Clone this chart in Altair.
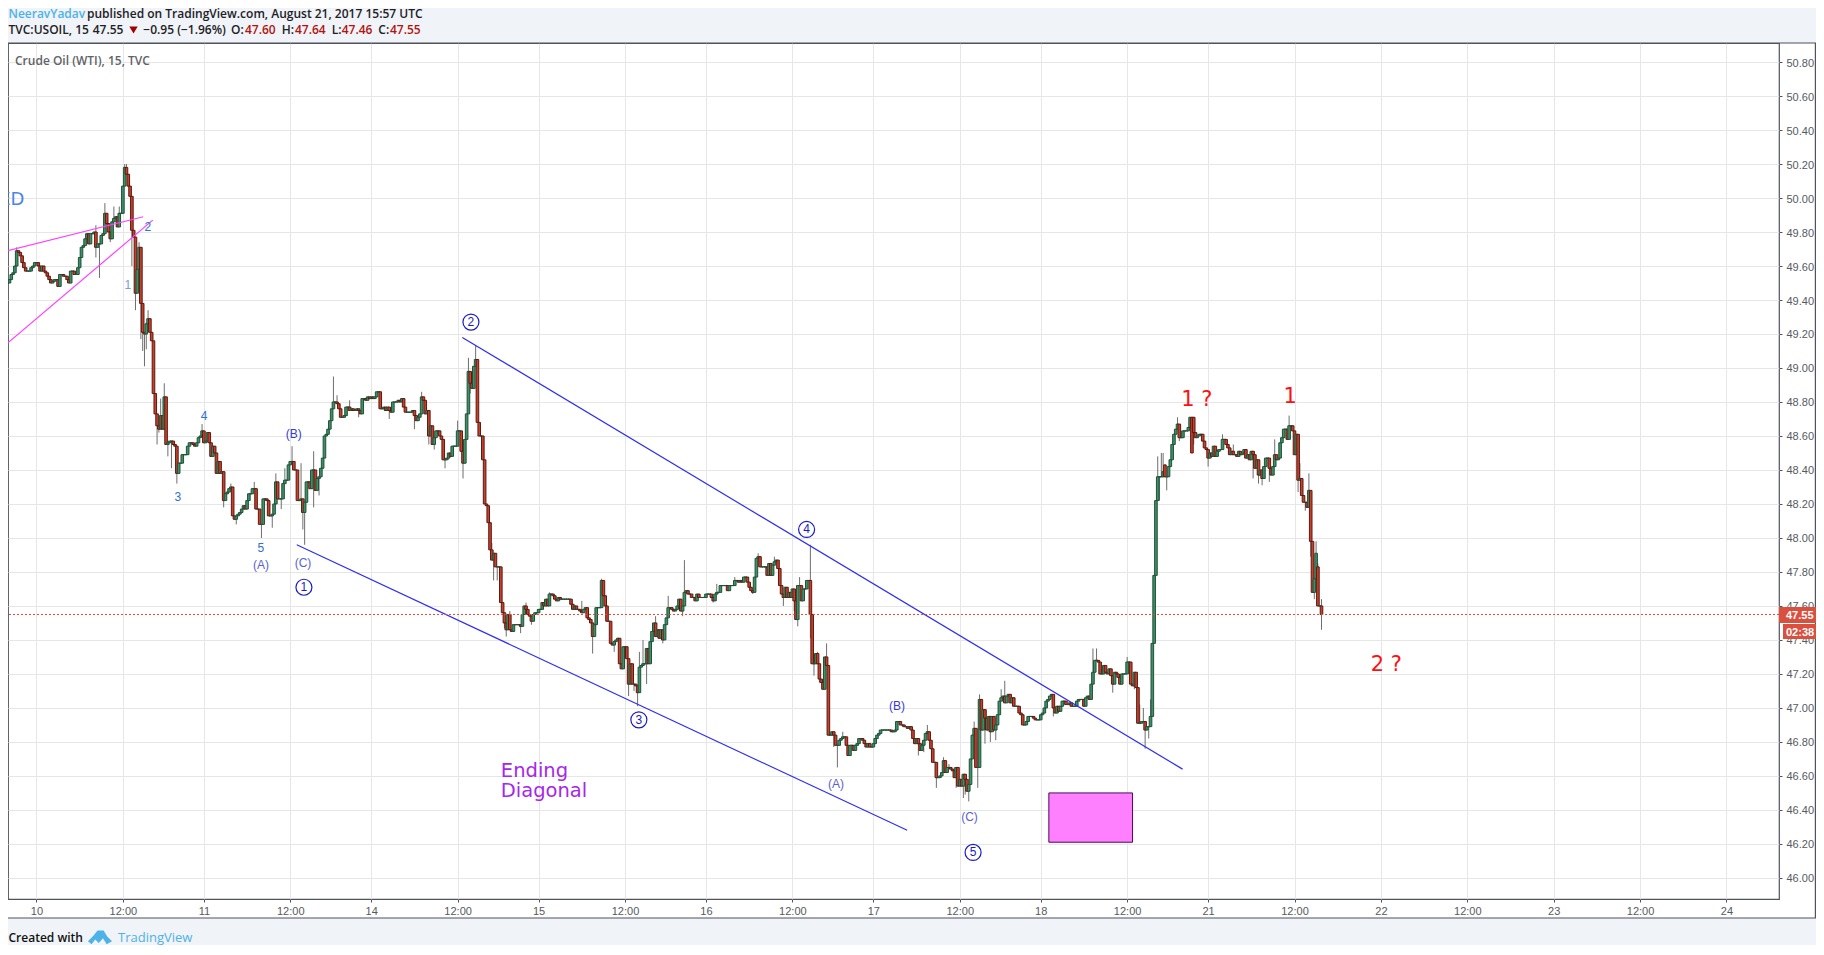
import altair as alt
import pandas as pd

# ---- candle closes, by stretch of the chart (15-minute bars, bar 0 = Aug 10 00:00)
start_1 = -16
closes_1 = [
    49.50,49.52,49.55,49.56,49.60,49.69,49.68,49.66,49.62,49.59,
    49.57,49.57,49.57,49.59,49.60,49.62,
    49.62,49.60,49.57,49.60,49.57,49.56,49.54,49.52,49.50,49.51,
    49.52,49.52,49.48,49.55,49.55,49.54,49.54,49.52,49.50,49.57,
    49.57,49.55,49.55,49.59,49.65,49.71,49.72,49.76,49.79,49.73,
    49.79,49.79,49.80,49.71,49.73,49.73,49.78,49.79,49.91,49.85,
    49.80,49.76,49.86,49.88,49.89,49.83,49.91,49.91,50.07,50.18,
    50.14,50.07,50.01,49.81,49.77,49.44,49.58,49.71,49.38,49.21,
    49.20,49.26,49.29,49.21,49.16]
start_2 = 65
closes_2 = [
    48.85,48.73,48.66,48.64,48.72,48.64,48.83,48.55,48.56,48.57,
    48.57,48.55,48.54,48.38,48.44,48.44,48.49,48.49,48.49,48.54,
    48.56,48.56,48.55,48.54,48.56,48.59,48.60,48.63,48.56,48.57,
    48.62,48.56,48.48,48.54,48.50,48.38,48.45,48.38,48.39,48.22,
    48.26,48.27,48.29,48.30,48.13,48.11,48.13,48.14,48.15,48.17,
    48.19,48.17,48.22,48.26,48.26,48.29,48.29,48.17,48.17,48.08,
    48.08,48.23,48.23,48.22,48.13,48.13,48.14,48.20,48.33,48.23,
    48.23,48.23,48.32,48.34,48.34,48.43,48.45,48.45,48.40,48.40,
    48.22,48.22,48.23,48.15,48.21,48.33,48.33,48.29,48.40,48.40,
    48.28,48.35,48.36,48.41,48.47,48.60,48.61,48.64,48.69,48.76,
    48.80,48.80,48.79,48.76,48.71,48.71,48.72,48.77,48.77,48.75,
    48.76,48.75,48.75,48.76,48.75,48.73,48.82,48.82,48.81,48.83,
    48.82,48.83,48.82,48.83,48.86,48.86,48.76,48.76,48.77,48.75,
    48.77,48.75,48.74,48.80,48.80,48.80,48.81,48.80,48.82,48.77,
    48.74,48.74,48.74,48.74,48.75,48.72,48.69,48.71,48.73,48.83,
    48.81,48.73,48.75,48.60,48.66,48.55,48.59,48.63,48.63,48.60,
    48.58,48.46,48.46,48.47,48.50,48.48,48.54,48.54,48.54,48.63,
    48.63,48.51,48.44,48.58,48.73,48.98,48.91,48.88,49.01,49.05]
start_3 = 245
closes_3 = [
    48.68,48.60,48.60,48.46,48.20,48.19,48.09,47.93,47.87,47.91,
    47.83,47.83,47.83,47.62,47.56,47.50,47.46,47.55,47.46,47.45,
    47.49,47.49,47.49,47.49,47.48,47.55,47.60,47.58,47.55,47.54,
    47.51,47.55,47.56,47.56,47.58,47.58,47.62,47.60,47.64,47.60,
    47.67,47.67,47.66,47.64,47.63,47.65,47.64,47.64,47.64,47.64,
    47.64,47.64,47.61,47.58,47.60,47.58,47.58,47.57,47.56,47.58,
    47.59,47.53,47.52,47.50,47.42,47.49,47.59,47.59,47.59,47.75,
    47.66,47.60,47.51,47.51,47.38,47.37,47.39,47.40,47.41,47.26,
    47.23,47.36,47.36,47.29,47.14,47.26,47.14,47.14,47.13,47.09,
    47.24,47.25,47.26,47.26,47.35,47.26,47.39,47.45,47.50,47.42,
    47.46,47.41,47.46,47.40,47.49,47.53,47.59,47.59,47.58,47.57,
    47.58,47.60,47.64,47.57,47.60,47.68,47.69,47.67,47.67,47.65,
    47.65,47.63,47.67,47.65,47.65,47.65,47.65,47.67,47.67,47.67,
    47.65,47.63,47.67,47.68,47.68,47.72,47.72,47.72,47.72,47.69,
    47.72,47.72,47.72,47.75,47.75,47.74,47.75,47.74,47.77,47.77,
    47.74,47.71,47.69,47.68,47.77,47.88,47.89,47.83,47.83,47.83,
    47.83,47.78,47.85,47.78,47.84,47.86,47.87,47.82,47.72,47.67,
    47.65,47.71,47.65,47.68,47.65,47.70,47.63,47.52,47.72,47.72,
    47.63,47.70,47.70,47.75,47.75,47.55,47.26]
start_4 = 432
closes_4 = [
    47.26,47.32,47.26,47.17,47.15,47.11,47.30,47.25,46.84,46.84,
    46.86,46.84,46.78,46.78,46.81,46.82,46.83,46.83,46.78,46.72,
    46.78,46.78,46.75,46.78,46.79,46.82,46.82,46.81,46.79,46.77,
    46.79,46.77,46.77,46.79,46.82,46.84,46.85,46.87,46.87,46.87,
    46.87,46.87,46.87,46.86,46.86,46.87,46.92,46.92,46.90,46.90,
    46.89,46.89,46.88,46.89,46.87,46.82,46.79,46.82,46.79,46.75,
    46.78,46.81,46.85,46.86,46.81,46.76,46.68,46.68,46.59,46.59,
    46.60,46.62,46.69,46.62,46.65,46.65,46.64,46.63,46.59,46.65,
    46.54,46.58,46.54,46.61,46.58,46.51,46.55,46.70,46.84,46.88,
    46.65,46.65,47.05,46.87,46.99,46.94,46.87,46.95,46.86,46.95,
    46.87,46.90,46.96,47.04,47.06,47.07,47.03,47.07,47.08,47.03,
    47.06,47.01,47.01,47.01,46.97,46.96,46.90,46.90,46.92,46.95,
    46.95,46.95,46.94,46.93,46.93,46.93,46.96,46.97,47.00,47.04,
    47.05,47.07,47.08,47.00,46.97,47.01,46.98,47.01,47.04,47.04,
    47.02,47.02,47.03,47.01,47.01,47.01,47.04,47.05,47.05,47.05,
    47.01,47.06,47.07,47.05,47.14,47.21,47.28,47.28,47.27,47.20,
    47.20,47.25,47.21,47.20,47.23,47.19,47.14,47.21,47.20,47.18,
    47.14,47.20,47.20,47.20,47.27,47.27,47.14,47.13,47.21,47.12,
    46.91,46.91,46.92,46.92,46.87,46.89,46.89,46.95,47.38,47.78,
    48.22]
start_5 = 623
closes_5 = [
    48.36,48.36,48.36,48.39,48.36,48.36,48.42,48.46,48.55,48.61,
    48.64,48.67,48.59,48.59,48.63,48.63,48.63,48.65,48.71,48.50,
    48.62,48.59,48.60,48.61,48.61,48.57,48.53,48.52,48.47,48.50,
    48.48,48.54,48.48,48.51,48.52,48.52,48.58,48.58,48.55,48.53,
    48.49,48.51,48.49,48.49,48.48,48.51,48.49,48.50,48.52,48.47,
    48.49,48.46,48.51,48.49,48.41,48.46,48.37,48.40,48.35,48.42,
    48.47,48.47,48.41,48.37,48.42,48.49,48.46,48.47,48.56,48.59,
    48.64,48.64,48.58,48.66,48.66,48.63,48.49,48.61,48.34,48.35,
    48.25,48.21,48.21,48.18,48.28,47.98,47.68,47.76,47.91,47.60,
    47.60,47.55]

# Bars whose open is visibly away from the previous close
gapped_opens = {627: 48.43, 643: 48.71, 712: 47.83, 714: 47.60}

# Visible upper and lower wicks
wick_highs = {
    -11:49.71,33:49.84,38:49.97,43:49.95,46:49.95,49:50.20,50:50.20,57:49.74,62:49.34,
    69:48.82,71:48.91,92:48.67,108:48.32,121:48.33,133:48.38,138:48.41,142:48.54,147:48.44,
    154:48.51,165:48.95,167:48.84,174:48.81,214:48.86,234:48.69,240:49.06,244:49.13,
    253:47.97,263:47.57,272:47.62,285:47.68,303:47.63,314:47.76,335:47.33,337:47.40,
    344:47.54,351:47.66,360:47.87,378:47.73,388:47.77,401:47.91,410:47.89,424:47.77,
    430:47.96,434:47.33,439:47.38,448:46.86,495:46.90,504:46.71,507:46.67,510:46.65,
    521:46.92,524:47.08,536:47.11,538:47.16,587:47.35,589:47.35,606:47.30,613:47.02,
    615:47.00,619:47.05,623:48.48,625:48.50,626:48.50,634:48.71,641:48.71,659:48.61,
    665:48.55,688:48.58,696:48.72,702:48.44,707:48.38,711:47.98,712:47.85,714:47.64}
wick_lows = {
    -16:49.45,33:49.65,35:49.53,41:49.74,53:49.60,55:49.34,58:49.17,59:49.10,60:49.01,
    61:49.11,67:48.55,68:48.62,73:48.48,75:48.41,78:48.32,104:48.18,111:48.08,125:48.00,
    131:48.06,136:48.17,148:48.05,149:47.96,154:48.18,157:48.25,179:48.71,196:48.70,
    210:48.64,218:48.55,221:48.52,227:48.41,237:48.35,241:48.85,254:47.75,256:47.75,
    260:47.47,261:47.42,269:47.44,275:47.49,309:47.32,321:47.33,326:47.23,329:47.07,
    332:47.10,334:47.01,339:47.14,348:47.38,359:47.54,376:47.62,398:47.67,415:47.60,
    421:47.57,423:47.48,430:47.41,432:47.19,435:47.15,443:46.77,445:46.65,451:46.72,
    490:46.72,493:46.74,500:46.53,511:46.53,515:46.47,516:46.49,518:46.45,523:46.53,
    527:46.79,530:46.80,533:46.81,565:46.95,598:47.09,610:47.11,616:46.76,618:46.82,
    624:48.22,628:48.28,635:48.57,643:48.55,651:48.42,676:48.35,679:48.32,681:48.31,
    685:48.33,701:48.27,705:48.16,708:47.89,710:47.64,714:47.46}

# Axis ticks
x_tick_bars = [0,48,93,141,186,234,279,327,372,420,465,513,558,606,651,699,747,795,843,891,939]
x_tick_text = ["10","12:00","11","12:00","14","12:00","15","12:00","16","12:00","17","12:00",
               "18","12:00","21","12:00","22","12:00","23","12:00","24"]
y_ticks = [46.0,46.2,46.4,46.6,46.8,47.0,47.2,47.4,47.6,47.8,48.0,48.2,48.4,48.6,48.8,
           49.0,49.2,49.4,49.6,49.8,50.0,50.2,50.4,50.6,50.8]

# Annotations, in bar / price terms
wave_small = [("1",50.8,49.49,"#6f9fe6"),("2",61.9,49.83,"#2f6fd8"),("3",78.6,48.24,"#2f6fd8"),
              ("4",93.1,48.72,"#2f6fd8"),("5",124.7,47.94,"#2f6fd8"),
              ("(A)",124.7,47.84,"#5a62d0"),("(B)",142.9,48.61,"#3a3ad0"),("(C)",148.1,47.85,"#5a62d0"),
              ("(A)",444.2,46.55,"#5a62d0"),("(B)",478.1,47.01,"#3a3ad0"),("(C)",518.4,46.36,"#5a62d0")]
wave_circled = [("1",148.6,47.71),("2",241.4,49.27),("3",334.7,46.93),("4",427.9,48.05),("5",520.4,46.15)]
red_marks = [("1 ?",644.7,48.81),("1",696.6,48.83),("2 ?",750.0,47.25)]
purple_lines = [("Ending",258.0,46.63),("Diagonal",258.0,46.51)]
magenta_segments = [(-16.2,49.69,59.3,49.89),(-16.2,49.145,64.6,49.87)]
blue_segments = [(236.6,49.18,636.8,46.64),(144.6,47.96,483.8,46.28)]
pink_box = (562.5,609.0,46.50,46.21)
last_price = 47.55

# ---- table of candles
closes = {}
for s, vals in [(start_1,closes_1),(start_2,closes_2),(start_3,closes_3),(start_4,closes_4),(start_5,closes_5)]:
    for i, v in enumerate(vals):
        closes[s+i] = v
rows = []
prev = None
for b in sorted(closes):
    c = closes[b]
    o = gapped_opens.get(b, prev if prev is not None else c)
    h = max(o, c, wick_highs.get(b, 0))
    l = min(o, c, wick_lows.get(b, 99))
    rows.append({"bar":b,"open":o,"close":c,"high":h,"low":l,"dir":"up" if c>=o else "down"})
    prev = c
candles = pd.DataFrame(rows)

# ---- layout helpers (page pixels -> canvas pixels)
PLOT_W, PLOT_H = 1771, 856
def px(x): return x-8
def py(y): return y-43

GRID = "#e6e6e6"; AX = "#50535e"; AXTXT = "#555a60"; PANEL = "#f0f3f7"
x_scale = alt.Scale(domain=[-15.83,968.2], nice=False, zero=False, padding=0)
y_scale = alt.Scale(domain=[45.876,50.912], nice=False, zero=False)
label_map = "{" + ",".join(f'"{b}":"{t}"' for b,t in zip(x_tick_bars,x_tick_text)) + "}"
x_axis = alt.Axis(values=x_tick_bars, labelExpr=f"{label_map}[datum.value]", grid=True, gridColor=GRID, gridWidth=1,
        domain=False, ticks=True, tickSize=3, tickColor=AX, labelColor=AXTXT, labelFont="Liberation Sans",
        labelFontSize=11, labelPadding=3, labelOverlap=False, labelFlush=False, labelBound=False, title=None)
y_axis = alt.Axis(orient="right", values=y_ticks, format=".2f", grid=True, gridColor=GRID, gridWidth=1,
        domain=False, ticks=True, tickSize=3, tickColor=AX, labelColor=AXTXT, labelFont="Liberation Sans",
        labelFontSize=11, labelPadding=4, labelOffset=1, labelOverlap=False, labelFlush=False, labelBound=False, title=None)
X = lambda f="bar": alt.X(f"{f}:Q", scale=x_scale, axis=x_axis)
Y = lambda f: alt.Y(f"{f}:Q", scale=y_scale, axis=y_axis)
def one(): return alt.Chart(pd.DataFrame({"k":[0]}))

layers = []

# grey page bands round the white chart frame
def box(x1,x2,y1,y2,fill):
    return one().mark_rect(fill=fill).encode(
        x=alt.value(px(x1)), x2=alt.value(px(x2)), y=alt.value(py(y1)), y2=alt.value(py(y2)))
layers.append(box(8,1816,8,43,PANEL))
layers.append(box(8,1816,918,945,PANEL))

# wicks
layers.append(alt.Chart(candles).mark_rule(color="#6e6e6e", strokeWidth=1, clip=True).encode(
    x=X(), y=Y("low"), y2="high:Q"))

# bodies
layers.append(alt.Chart(candles).mark_bar(size=2.6, strokeWidth=1, clip=True, orient="vertical").encode(
    x=X(), y=Y("open"), y2="close:Q",
    fill=alt.Fill("dir:N", scale=alt.Scale(domain=["up","down"], range=["#3f8f68","#c8402c"]), legend=None),
    stroke=alt.Stroke("dir:N", scale=alt.Scale(domain=["up","down"], range=["#1f5138","#5a1a10"]), legend=None)))

# trend lines
def segments(segs, color, width):
    out = []
    for x1,y1,x2,y2 in segs:
        df = pd.DataFrame({"a":[x1],"b":[y1],"c":[x2],"d":[y2]})
        out.append(alt.Chart(df).mark_rule(color=color, strokeWidth=width, clip=True).encode(
            x=X("a"), y=Y("b"), x2="c:Q", y2="d:Q"))
    return out
layers += segments(magenta_segments, "#ff40ff", 1.2)
layers += segments(blue_segments, "#3030f0", 1.2)

# price line
layers.append(alt.Chart(pd.DataFrame({"p":[last_price]})).mark_rule(color="#e8452f", strokeWidth=1, strokeDash=[2,2]).encode(
    y=Y("p")))

# pink box
layers.append(alt.Chart(pd.DataFrame({"x":[pink_box[0]],"x2":[pink_box[1]],"y":[pink_box[2]],"y2":[pink_box[3]]}))
    .mark_rect(fill="#ff80ff", stroke="#4b0a5a", strokeWidth=1).encode(x=X("x"), x2="x2:Q", y=Y("y"), y2="y2:Q"))

# wave labels
def data_text(items, font, size, color=None, align="center", weight="normal"):
    out = []
    for it in items:
        t, b, p = it[0], it[1], it[2]
        c = it[3] if len(it) > 3 else color
        df = pd.DataFrame({"t":[t],"b":[b],"p":[p]})
        out.append(alt.Chart(df).mark_text(font=font, fontSize=size, color=c, align=align, baseline="middle",
                                           fontWeight=weight, clip=True).encode(x=X("b"), y=Y("p"), text="t:N"))
    return out
layers += data_text(wave_small, "Liberation Sans", 12)
layers += data_text([("ED",-6.7,49.99,"#4a86e8")], "DejaVu Sans", 18, align="right")
layers += data_text(red_marks, "DejaVu Sans", 21, color="#ff1010")
layers += data_text(purple_lines, "DejaVu Sans", 19.5, color="#a626ee", align="left")
circ = pd.DataFrame(wave_circled, columns=["t","b","p"])
layers.append(alt.Chart(circ).mark_point(shape="circle", size=256, filled=False, color="#1a1ac8", strokeWidth=1.2, opacity=1)
              .encode(x=X("b"), y=Y("p")))
layers += data_text(wave_circled, "Liberation Sans", 12, color="#1a1ac8")

# frame round the price scale and time scale
layers.append(one().mark_rect(fillOpacity=0, stroke=AX, strokeWidth=1.2).encode(
    x=alt.value(-2), x2=alt.value(px(1815.4)), y=alt.value(0), y2=alt.value(py(918))))

# price tags
layers.append(box(1779,1816,607,623,"#d9503f"))
layers.append(box(1783,1816,624,639,"#d9503f"))

# free text, page-placed
def label(text, x, y, color, size=12, weight="normal", font="Open Sans", align="left"):
    return alt.Chart(pd.DataFrame({"t":[text]})).mark_text(font=font, fontSize=size, color=color, fontWeight=weight,
        align=align, baseline="alphabetic").encode(x=alt.value(px(x)), y=alt.value(py(y)), text="t:N")

layers.append(label("47.55", 1786, 619, "white", 11, "bold", "Liberation Sans"))
layers.append(label("02:38", 1786, 636, "white", 11, "bold", "Liberation Sans"))
layers.append(label("Crude Oil (WTI), 15, TVC", 15, 65, "#5f6368", 12, 600))
HD = "#1c2126"; RED = "#b3140f"; BLUE = "#4db2e8"
layers.append(label("NeeravYadav", 8.5, 18, BLUE, 12, 600))
layers.append(label("published on TradingView.com, August 21, 2017 15:57 UTC", 87, 18, HD, 12, 600))
layers.append(label("TVC:USOIL, 15", 8.5, 34, HD, 12, 600))
layers.append(label("47.55", 92.7, 34, HD, 12, 600))
layers.append(one().mark_point(shape="triangle-down", filled=True, size=70, color="#a00000", opacity=1)
              .encode(x=alt.value(px(133.5)), y=alt.value(py(30))))
layers.append(label("\u22120.95 (\u22121.96%)", 143.3, 34, HD, 12, 600))
for t,x,col in [("O:",231,HD),("47.60",245,RED),("H:",281.7,HD),("47.64",295,RED),
                ("L:",331.7,HD),("47.46",341.7,RED),("C:",378.3,HD),("47.55",390,RED)]:
    layers.append(label(t, x, 34, col, 12, 600))
layers.append(label("Created with", 8.5, 942, "#111111", 12, 600))
layers.append(label("TradingView", 118, 942, BLUE, 13, "normal"))
cloud = "M-1,0.35 L-0.55,-0.1 L-0.2,-0.55 L0.3,-0.55 L0.6,-0.05 L1,0.35 L0.55,0.6 L0.25,0.1 L-0.1,0.5 L-0.4,0.2 L-0.7,0.6 Z"
layers.append(one().mark_point(shape=cloud, filled=True, size=580, color=BLUE, opacity=1)
              .encode(x=alt.value(px(100)), y=alt.value(py(937))))

chart = alt.layer(*layers).properties(
    width=PLOT_W, height=PLOT_H,
    autosize=alt.AutoSizeParams(type="none"),
    padding={"left":0,"top":35,"right":37,"bottom":46},
    background="white",
).configure_view(stroke=AX, strokeWidth=1.2)

chart.save("out.html", embed_options={"renderer": "svg", "actions": False})
